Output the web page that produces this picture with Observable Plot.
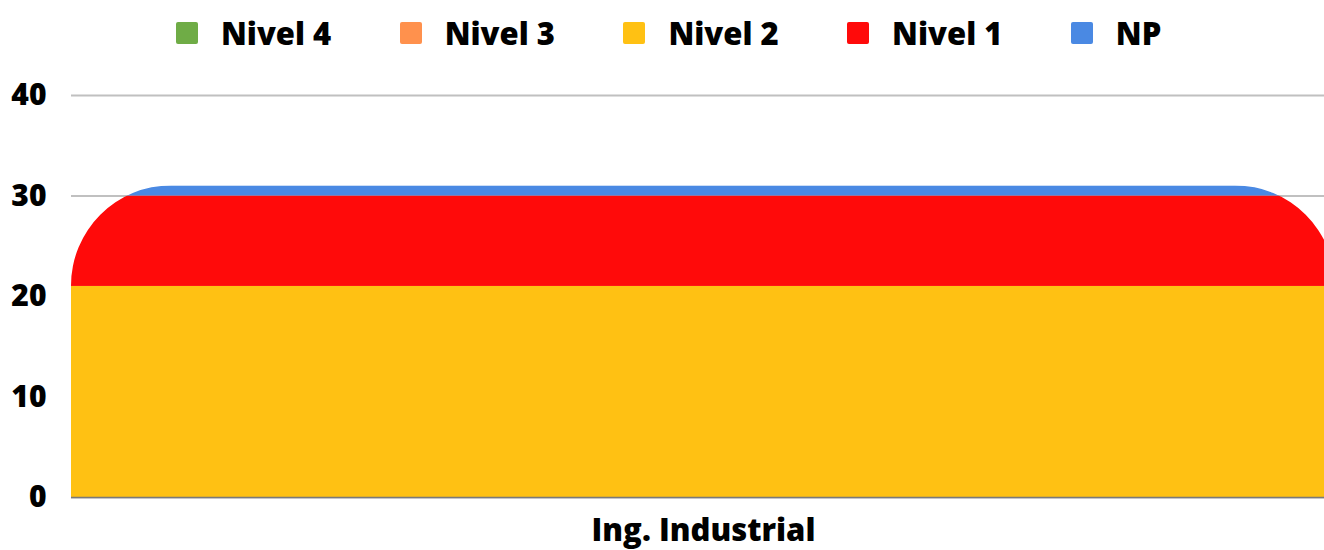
<!DOCTYPE html>
<html>
<head>
<meta charset="utf-8">
<script src="https://cdn.jsdelivr.net/npm/d3@7"></script>
<script src="https://cdn.jsdelivr.net/npm/@observablehq/plot@0.6"></script>
<style>
  body { margin: 0; background: #fff; font-family: "Open Sans", sans-serif; }
  #legend { position: relative; height: 70px; width: 1324px; }
  .item { position: absolute; top: 16px; height: 34px; display: flex; align-items: center; }
  .sw { width: 22px; height: 22px; border-radius: 2px; margin-right: 23px; }
  .lbl { font-size: 31px; font-weight: 800; color: #000; line-height: 34px; }
</style>
</head>
<body>
<div id="legend"></div>
<div id="chart"></div>
<script>
const categories = ["Ing. Industrial"];
const series = ["Nivel 4", "Nivel 3", "Nivel 2", "Nivel 1", "NP"];
const values = [0, 0, 21, 9, 1];
const colors = ["#6fac46", "#ff914d", "#ffc113", "#ff0a0a", "#4a89e3"];
const yTicks = [0, 10, 20, 30, 40];

const data = series.map((s, i) => ({cat: categories[0], serie: s, value: values[i]}));

// legend
const legendEl = document.getElementById("legend");
series.forEach((s, i) => {
  const it = document.createElement("div");
  it.className = "item";
  it.style.left = (176 + i * 223.7) + "px";
  const sw = document.createElement("div");
  sw.className = "sw";
  sw.style.background = colors[i];
  const lb = document.createElement("span");
  lb.className = "lbl";
  lb.textContent = s;
  it.appendChild(sw); it.appendChild(lb);
  legendEl.appendChild(it);
});

const plot = Plot.plot({
  width: 1324,
  height: 480,
  marginTop: 25,
  marginBottom: 53,
  marginLeft: 71,
  marginRight: 0,
  style: {fontFamily: "Open Sans", fontWeight: 800, fontSize: "30px", color: "#000", background: "#fff"},
  x: {domain: categories, range: [71, 1335], padding: 0, label: null},
  y: {domain: [0, 40], ticks: yTicks, label: null},
  color: {domain: series, range: colors},
  marks: [
    Plot.gridY(yTicks, {stroke: "#c0c0c0", strokeOpacity: 1, strokeWidth: 2}),
    Plot.barY(data, {x: "cat", y: "value", fill: "serie"}),
    Plot.ruleY([0], {stroke: "#7a7a7a", strokeWidth: 1.5}),
    Plot.axisY(yTicks, {tickSize: 0, tickPadding: 25, fontSize: 30, fontWeight: 800, label: null}),
    Plot.axisX({tickSize: 0, tickPadding: 21, fontSize: 31, fontWeight: 800, label: null})
  ]
});

// rounded top corners via clip path derived from scales
const xs = plot.scale("x"), ys = plot.scale("y");
const bx0 = xs.apply(categories[0]);
const bx1 = bx0 + xs.bandwidth;
const total = d3.sum(values);
const by0 = ys.apply(total), by1 = ys.apply(0);
const rr = 100;
const ns = "http://www.w3.org/2000/svg";
const defs = document.createElementNS(ns, "defs");
const cp = document.createElementNS(ns, "clipPath");
cp.setAttribute("id", "roundTop");
const p = document.createElementNS(ns, "path");
p.setAttribute("d", `M${bx0},${by1}V${by0 + rr}A${rr},${rr} 0 0 1 ${bx0 + rr},${by0}H${bx1 - rr}A${rr},${rr} 0 0 1 ${bx1},${by0 + rr}V${by1}Z`);
cp.appendChild(p); defs.appendChild(cp);
plot.insertBefore(defs, plot.firstChild);
const barG = plot.querySelector('g[aria-label="bar"]');
if (barG) barG.setAttribute("clip-path", "url(#roundTop)");

document.getElementById("chart").appendChild(plot);
</script>
</body>
</html>
